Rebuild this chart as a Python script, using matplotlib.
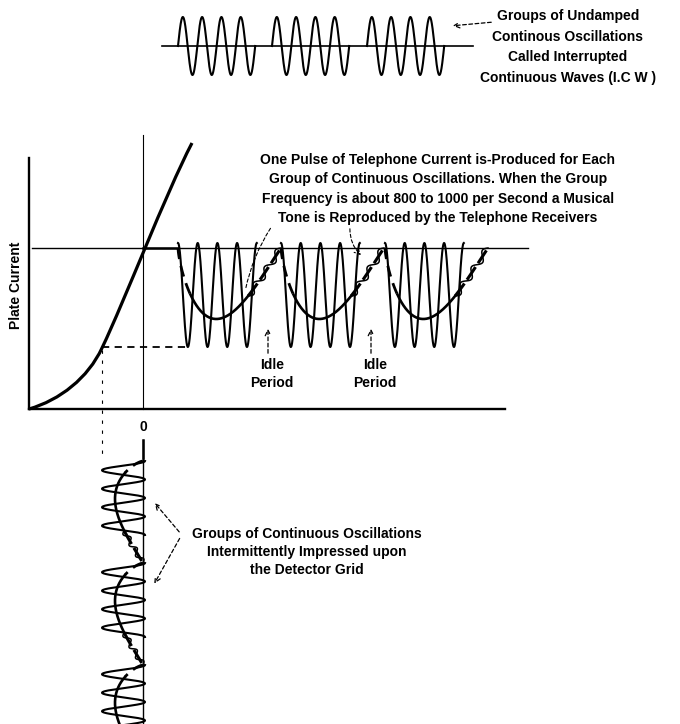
import numpy as np
import matplotlib.pyplot as plt
from matplotlib.path import Path
from matplotlib.patches import PathPatch

plt.rcParams["font.family"] = ["Liberation Sans", "DejaVu Sans"]

# everything is laid out in picture pixels (x to the right, y downwards)

# top train of interrupted continuous waves
icw_starts = [178, 272, 367]
icw_cycles = 4
icw_period = 19.3
icw_amp = 29
icw_base = 46

# plate current groups (right of the characteristic)
plate_starts = [178, 281, 385]
plate_cycles = 4
plate_period = 19.7
plate_top = 243
plate_bottom = 347
plate_line = 248
plate_depth = 71
plate_group_len = 103

# grid voltage groups (below the characteristic)
grid_starts = [461, 563, 665]
grid_cycles = 4
grid_period = 18.5
grid_left = 102
grid_right = 145
grid_base = 143
grid_depth = 28
grid_group_len = 102

# tube characteristic, cubic bezier vertices
curve_x = [29, 60, 88, 102, 125, 165, 192]
curve_y = [409, 400, 378, 348, 300, 195, 143]

fig = plt.figure(figsize=(6.8, 7.24), dpi=100, facecolor="white")
ax = fig.add_axes([0, 0, 1, 1])
ax.set_xlim(0, 680)
ax.set_ylim(724, 0)
ax.axis("off")

K = "black"


def envelope(p):
    return np.sin(np.pi * p ** 0.7)


def twisted(xs, ys, n=3, amp=3.5):
    ax.plot(xs, ys, color=K, lw=2.2, dashes=(5, 1.5), solid_capstyle="round")
    dx = np.gradient(xs)
    dy = np.gradient(ys)
    L = np.hypot(dx, dy)
    nx, ny = -dy / L, dx / L
    t = np.linspace(0, 1, len(xs))
    off = amp * np.sin(2 * np.pi * n * t)
    ax.plot(xs + nx * off, ys + ny * off, color=K, lw=1.1)


# ---- top I.C.W. train
ax.plot([162, 473], [icw_base, icw_base], color=K, lw=1.2)
for s in icw_starts:
    x = np.linspace(s, s + icw_cycles * icw_period, 400)
    y = icw_base - icw_amp * np.sin(2 * np.pi * (x - s) / icw_period)
    ax.plot(x, y, color=K, lw=1.5)

ax.text(568, 47, "Groups of Undamped\nContinous Oscillations\nCalled Interrupted\nContinuous Waves (I.C W )",
        ha="center", va="center", fontsize=10, weight="bold", linespacing=1.58)
ax.annotate("", xy=(450, 26), xytext=(494, 22),
            arrowprops=dict(arrowstyle="->", lw=0.9, linestyle=(0, (3, 2)), color=K))

# ---- axes of the characteristic
ax.plot([29, 29], [158, 409], color=K, lw=1.7)
ax.plot([29, 505], [409, 409], color=K, lw=1.7)
ax.plot([143, 143], [135, 409], color=K, lw=0.8)
ax.plot([32, 528], [plate_line, plate_line], color=K, lw=1.0)
ax.plot([143, plate_starts[0]], [plate_line, plate_line], color=K, lw=1.8)

verts = list(zip(curve_x, curve_y))
codes = [Path.MOVETO] + [Path.CURVE4] * 6
ax.add_patch(PathPatch(Path(verts, codes), facecolor="none", edgecolor=K, lw=2.3))

# projection lines
ax.plot([102, 188], [347, 347], color=K, lw=1.3, dashes=(4, 3))
ax.plot([102, 102], [350, 460], color=K, lw=0.8, dashes=(3, 6))

ax.text(16, 285, "Plate Current", rotation=90, ha="center", va="center",
        fontsize=10, weight="bold")
ax.text(143, 427, "0", ha="center", va="center", fontsize=10, weight="bold")

# ---- plate current oscillations and their average
for s in plate_starts:
    x = np.linspace(s, s + plate_cycles * plate_period, 500)
    mid = (plate_top + plate_bottom) / 2
    half = (plate_bottom - plate_top) / 2
    y = mid - half * np.cos(2 * np.pi * (x - s) / plate_period)
    ax.plot(x, y, color=K, lw=1.5)

    p = np.linspace(0, 1, 300)
    ex = s + p * plate_group_len
    ey = plate_line + plate_depth * envelope(p)
    a = p <= 0.12
    b = (p >= 0.12) & (p <= 0.68)
    c = p >= 0.68
    ax.plot(ex[a], ey[a], color=K, lw=2.0, dashes=(4, 2.5))
    ax.plot(ex[b], ey[b], color=K, lw=1.9)
    twisted(ex[c], ey[c])

ax.text(438, 189, "One Pulse of Telephone Current is-Produced for Each\n"
        "Group of Continuous Oscillations. When the Group\n"
        "Frequency is about 800 to 1000 per Second a Musical\n"
        "Tone is Reproduced by the Telephone Receivers",
        ha="center", va="center", fontsize=10, weight="bold", linespacing=1.5)
ax.annotate("", xy=(245, 292), xytext=(272, 226),
            arrowprops=dict(arrowstyle="-", lw=0.8, linestyle=(0, (3, 2)), color=K,
                            connectionstyle="arc3,rad=0.1"))
ax.annotate("", xy=(363, 257), xytext=(350, 226),
            arrowprops=dict(arrowstyle="->", lw=0.8, linestyle=(0, (3, 2)), color=K,
                            connectionstyle="arc3,rad=0.25"))

for xi in [270, 373]:
    ax.annotate("", xy=(xi - 2, 326), xytext=(xi - 2, 356),
                arrowprops=dict(arrowstyle="->", lw=0.9, linestyle=(0, (3, 2)), color=K))
    ax.text(xi + 2, 374, "Idle\nPeriod", ha="center", va="center", fontsize=10,
            weight="bold", linespacing=1.3)

# ---- grid voltage oscillations
ax.plot([grid_base, grid_base], [440, 724], color=K, lw=1.0)
ax.plot([grid_base, grid_base], [440, 458], color=K, lw=1.8)
for s in grid_starts:
    y = np.linspace(s, s + grid_cycles * grid_period, 500)
    mid = (grid_left + grid_right) / 2
    half = (grid_right - grid_left) / 2
    x = mid + half * np.cos(2 * np.pi * (y - s) / grid_period)
    ax.plot(x, y, color=K, lw=1.5)

    p = np.linspace(0, 1, 300)
    ey = s + p * grid_group_len
    ex = grid_base - grid_depth * envelope(p)
    a = p <= 0.12
    b = (p >= 0.12) & (p <= 0.68)
    c = p >= 0.68
    ax.plot(ex[a], ey[a], color=K, lw=2.0, dashes=(4, 2.5))
    ax.plot(ex[b], ey[b], color=K, lw=1.9)
    twisted(ex[c], ey[c], amp=2.8)

ax.text(307, 552, "Groups of Continuous Oscillations\nIntermittently Impressed upon\nthe Detector Grid",
        ha="center", va="center", fontsize=10, weight="bold", linespacing=1.35)
ax.annotate("", xy=(153, 501), xytext=(181, 534),
            arrowprops=dict(arrowstyle="->", lw=0.9, linestyle=(0, (3, 2)), color=K))
ax.annotate("", xy=(153, 586), xytext=(181, 536),
            arrowprops=dict(arrowstyle="->", lw=0.9, linestyle=(0, (3, 2)), color=K))

fig.savefig("out.png", dpi=100, facecolor="white")
